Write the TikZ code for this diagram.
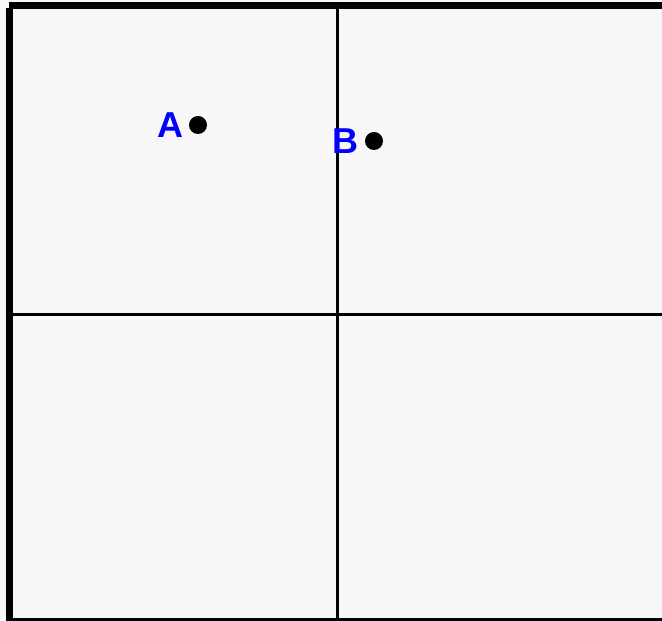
\documentclass[tikz,border=0pt]{standalone}
\usepackage{fontspec}
\setmainfont{Liberation Sans}
\definecolor{bg}{HTML}{F7F7F7}
\definecolor{lblue}{HTML}{0000FF}
\tikzset{
  dot/.style={circle,fill=black,inner sep=0pt,minimum size=18pt},
  lbl/.style={text=lblue,font=\fontsize{36}{36}\selectfont\bfseries,inner sep=0pt},
  frame/.style={line width=7pt,black},
  grid line/.style={line width=2.5pt,black}
}
\begin{document}
\begin{tikzpicture}[x=1pt,y=1pt]
\fill[bg] (0,0) rectangle (662,621);
\useasboundingbox (0,0) rectangle (662,621);
% grid lines
\coordinate (vt) at (337.5,612);
\coordinate (vb) at (337.5,0);
\coordinate (hl) at (13,306.5);
\coordinate (hr) at (662,306.5);
\draw[grid line] (vt) -- (vb);
\draw[grid line] (hl) -- (hr);
% frame
\coordinate (tl) at (9,615.5);
\coordinate (tr) at (662,615.5);
\coordinate (lt) at (9.5,613);
\coordinate (lb) at (9.5,0);
\coordinate (bl) at (13,1.5);
\coordinate (br) at (662,1.5);
\draw[frame] (tl) -- (tr);
\draw[frame] (lt) -- (lb);
\draw[line width=3pt] (bl) -- (br);
% points
\node[dot] (A) at (198,496) {};
\node[dot] (B) at (374,480) {};
\node[lbl] (la) at (170,496) {A};
\node[lbl] (lb2) at (345.5,479.5) {B};
\end{tikzpicture}
\end{document}
